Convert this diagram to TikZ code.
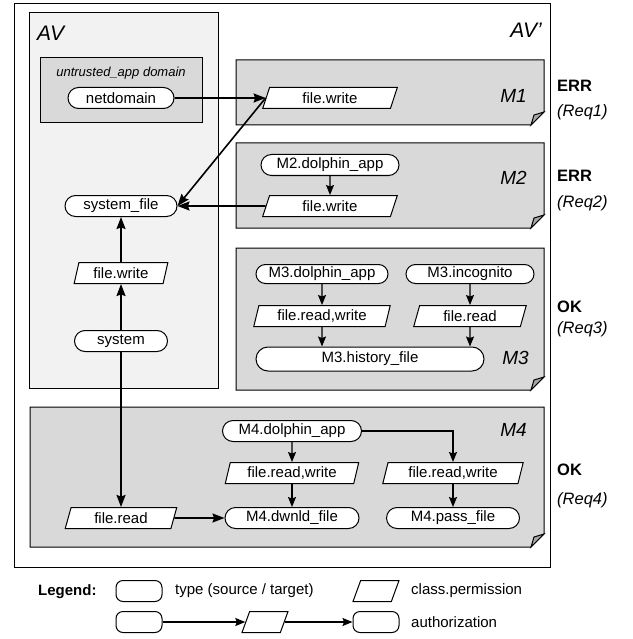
\documentclass[tikz,border=0pt]{standalone}
\usepackage{fontspec}
\setmainfont{Liberation Sans}
\usetikzlibrary{shapes.geometric,shapes.misc,arrows.meta}

\definecolor{avgray}{HTML}{F2F2F2}
\definecolor{mgray}{HTML}{D9D9D9}
\definecolor{foldgray}{HTML}{A6A6A6}

% module box with a folded corner
\newcommand{\modbox}[4]{%
  \draw[fill=mgray, line width=1pt] (#1,#2) -- (#3,#2) -- (#3,#4-13) -- (#3-13,#4) -- (#1,#4) -- cycle;
  \draw[fill=foldgray, line width=1pt] (#3,#4-13) -- (#3-13,#4) -- (#3-10,#4-10) -- cycle;}

\begin{document}
\begin{tikzpicture}[x=1pt, y=-1pt, node distance=42pt,
    main/.style = {draw, rounded rectangle, fill=white, line width=1pt,
      minimum height=21pt, inner sep=1pt, font=\fontsize{15}{17}\selectfont},
    perm/.style = {draw, trapezium, trapezium left angle=76, trapezium right angle=104,
      trapezium stretches=true, fill=white, line width=1pt, minimum height=21pt,
      inner sep=1pt, font=\fontsize{15}{17}\selectfont},
    key/.style = {draw, rounded corners=7pt, fill=white, line width=1pt,
      minimum width=46pt, minimum height=21pt},
    txt/.style = {font=\fontsize{15}{17}\selectfont, anchor=west, inner sep=0pt},
    big/.style = {font=\fontsize{21}{23}\selectfont\itshape, inner sep=0pt},
    mlab/.style = {font=\fontsize{19}{21}\selectfont\itshape, anchor=east, inner sep=0pt},
    res/.style = {font=\fontsize{16.5}{18}\selectfont\bfseries, anchor=west, inner sep=0pt},
    req/.style = {font=\fontsize{16.5}{18}\selectfont\itshape, anchor=west, inner sep=0pt},
    arr/.style = {-{Stealth[length=12pt, width=9pt, inset=1.5pt]}, line width=1.6pt},
    sarr/.style = {-{Stealth[length=10pt, width=8pt, inset=1.5pt]}, line width=1.2pt}]

    \useasboundingbox (0,0) rectangle (632,639);

    % boxes
    \draw[fill=white, line width=1pt] (14,4) rectangle (550,567);
    \draw[fill=avgray, line width=1pt] (29,13) rectangle (218,388);
    \draw[fill=mgray, line width=1pt] (40,58) rectangle (202,123);
    \modbox{236}{60}{544}{125}
    \modbox{236}{143}{544}{228}
    \modbox{236}{248}{544}{390}
    \modbox{30}{407}{544}{547}

    \node[big, anchor=west] (av) at (37,33) {AV};
    \node[big, anchor=east] (av2) at (542,30) {AV’};
    \node[font=\fontsize{13}{15}\selectfont\itshape, inner sep=0pt] (dom) at (121,73) {untrusted\_app domain};
    \node[mlab] (m1) at (527,96) {M1};
    \node[mlab] (m2) at (527,178) {M2};
    \node[mlab] (m3) at (529,358) {M3};
    \node[mlab] (m4) at (527,430) {M4};

    % AV
    \node[main, minimum width=108pt] (1) at (121,98) {netdomain};
    \node[main, minimum width=114pt] (3) at (121,206) {system\_file};
    \node[perm, minimum width=94pt] (6) at (121,273) {file.write};
    \node[main, minimum width=95pt] (7) at (121,341) {system};

    % M1, M2
    \node[perm, minimum width=135pt] (2) at (330,98) {file.write};
    \node[main, minimum width=140pt] (4) at (330,165) {M2.dolphin\_app};
    \node[perm, minimum width=135pt] (5) [below of=4, node distance=41pt] {file.write};

    % M3
    \node[main, minimum width=134pt, minimum height=19pt] (8) at (322,274) {M3.dolphin\_app};
    \node[main, minimum width=130pt, minimum height=19pt] (9) at (470,274) {M3.incognito};
    \node[perm, minimum width=137pt] (10) [below of=8] {file.read,write};
    \node[perm, minimum width=113pt] (11) [below of=9] {file.read};
    \node[main, minimum width=230pt, minimum height=24pt] (12) at (370,359) {M3.history\_file};

    % M4
    \node[main, minimum width=141pt] (13) at (292,431) {M4.dolphin\_app};
    \node[perm, minimum width=134pt] (14) [below of=13] {file.read,write};
    \node[perm, minimum width=141pt] (15) at (453,473) {file.read,write};
    \node[perm, minimum width=112pt] (16) at (121,518) {file.read};
    \node[main, minimum width=136pt] (17) [below of=14, node distance=45pt] {M4.dwnld\_file};
    \node[main, minimum width=135pt] (18) [below of=15, node distance=45pt] {M4.pass\_file};

    % results
    \node[res] (e1) at (557,86) {ERR};
    \node[req] (r1) at (557,112) {(Req1)};
    \node[res] (e2) at (557,176) {ERR};
    \node[req] (r2) at (557,203) {(Req2)};
    \node[res] (e3) at (557,307) {OK};
    \node[req] (r3) at (557,329) {(Req3)};
    \node[res] (e4) at (557,470) {OK};
    \node[req] (r4) at (557,500) {(Req4)};

    \draw[arr] (1) -- (2);
    \draw[arr] (2.west) -- (3.east);
    \draw[arr] (5) -- (3);
    \draw[arr] (6) -- (3);
    \draw[arr] (7) -- (6);
    \draw[arr] (7) -- (16);
    \draw[arr] (16) -- (17);
    \draw[sarr] (4) -- (5);
    \draw[sarr] (8) -- (10);
    \draw[sarr] (9) -- (11);
    \draw[sarr] (10) -- (10 |- 12.north);
    \draw[sarr] (11) -- (11 |- 12.north);
    \draw[sarr] (13) -- (14);
    \draw[sarr] (14) -- (17);
    \draw[sarr] (13.east) -| (15);
    \draw[sarr] (15) -- (18);

    % legend
    \node[txt, font=\fontsize{15}{17}\selectfont\bfseries] (l0) at (38,592) {Legend:};
    \node[key] (l1) at (139,591) {};
    \node[txt] (l1t) at (175,591) {type (source / target)};
    \node[perm, minimum width=46pt] (l2) at (376,591) {};
    \node[txt] (l2t) at (411,591) {class.permission};
    \node[key] (l3) at (139,622) {};
    \node[perm, minimum width=46pt] (l4) at (265,622) {};
    \node[key] (l5) at (376,622) {};
    \node[txt] (l5t) at (411,622) {authorization};
    \draw[sarr] (l3) -- (l4);
    \draw[sarr] (l4) -- (l5);
\end{tikzpicture}
\end{document}
